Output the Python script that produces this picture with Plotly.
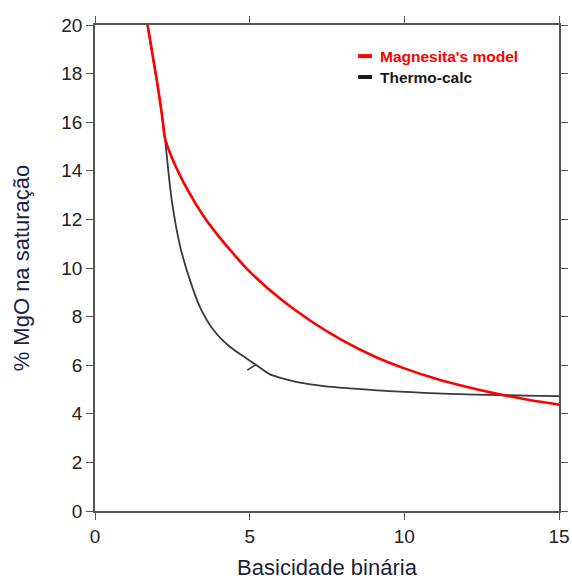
import plotly.graph_objects as go

# Magnesita's model (red)
red_x = [1.70, 1.85, 2.00, 2.12, 2.20, 2.26, 2.50, 3.00, 3.50, 4.00, 4.50, 5.00, 6.00, 7.00, 8.00, 9.00, 10.00, 11.00, 12.00, 13.00, 14.00, 15.00, 15.40]
red_y = [20.0, 18.85, 17.70, 16.70, 15.95, 15.35, 14.50, 13.20, 12.15, 11.30, 10.55, 9.85, 8.72, 7.80, 7.02, 6.38, 5.87, 5.45, 5.11, 4.82, 4.58, 4.38, 4.30]

# Thermo-calc (black)
blk_x = [1.70, 1.85, 2.00, 2.12, 2.20, 2.26, 2.48, 2.75, 3.07, 3.39, 3.83, 4.36, 4.90, 5.20, 5.66, 6.00, 6.63, 7.40, 8.24, 9.86, 11.48, 13.10, 14.93, 15.00]
blk_y = [20.0, 18.85, 17.70, 16.70, 15.95, 15.35, 12.8, 10.9, 9.5, 8.4, 7.45, 6.76, 6.28, 6.02, 5.62, 5.48, 5.28, 5.14, 5.05, 4.91, 4.82, 4.77, 4.73, 4.73]

# small spur on the Thermo-calc curve
spur_x = [5.20, 4.92]
spur_y = [6.02, 5.80]

x_ticks = [0, 5, 10, 15]
y_ticks = [0, 2, 4, 6, 8, 10, 12, 14, 16, 18, 20]

legend_names = ["Magnesita's model", "Thermo-calc"]
legend_colors = ["#ff0000", "#1a1a1a"]

fig = go.Figure()
fig.add_trace(go.Scatter(x=blk_x, y=blk_y, mode="lines",
                         line=dict(color="#3a3a3a", width=1.8, shape="spline", smoothing=0.8),
                         name=legend_names[1], showlegend=False))
fig.add_trace(go.Scatter(x=spur_x, y=spur_y, mode="lines",
                         line=dict(color="#3a3a3a", width=1.6), showlegend=False))
fig.add_trace(go.Scatter(x=red_x, y=red_y, mode="lines",
                         line=dict(color="#ff0000", width=2.6, shape="spline", smoothing=0.8),
                         name=legend_names[0], showlegend=False))

axis_common = dict(
    showline=True, linecolor="#555555", linewidth=1.5, mirror="ticks",
    ticks="outside", ticklen=7, tickwidth=1.3, tickcolor="#555555",
    showgrid=False, zeroline=False, automargin=False,
    tickfont=dict(family="Liberation Sans, Arial", size=19, color="#222222"),
)

fig.update_xaxes(range=[0, 15], tickvals=x_ticks,
                 title=dict(text="Basicidade binária", standoff=16,
                            font=dict(family="Liberation Sans, Arial", size=22, color="#1c1f33")),
                 **axis_common)
fig.update_yaxes(range=[0, 20], tickvals=y_ticks,
                 title=dict(text="% MgO na saturação", standoff=26,
                            font=dict(family="Liberation Sans, Arial", size=22, color="#1c2347")),
                 **axis_common)

# legend drawn manually
leg_y = [0.936, 0.893]
for name, col, yy in zip(legend_names, legend_colors, leg_y):
    fig.add_shape(type="line", xref="paper", yref="paper", x0=0.567, x1=0.597, y0=yy, y1=yy,
                  line=dict(color=col, width=4))
    fig.add_annotation(xref="paper", yref="paper", x=0.610, y=yy, xanchor="left", yanchor="middle",
                       text="<b>" + name + "</b>", showarrow=False,
                       font=dict(family="Liberation Sans, Arial", size=15.5, color=col))

fig.update_layout(
    width=572, height=580,
    margin=dict(l=95, r=13, t=25, b=69),
    paper_bgcolor="white", plot_bgcolor="white",
)

fig.write_html("out.html")
